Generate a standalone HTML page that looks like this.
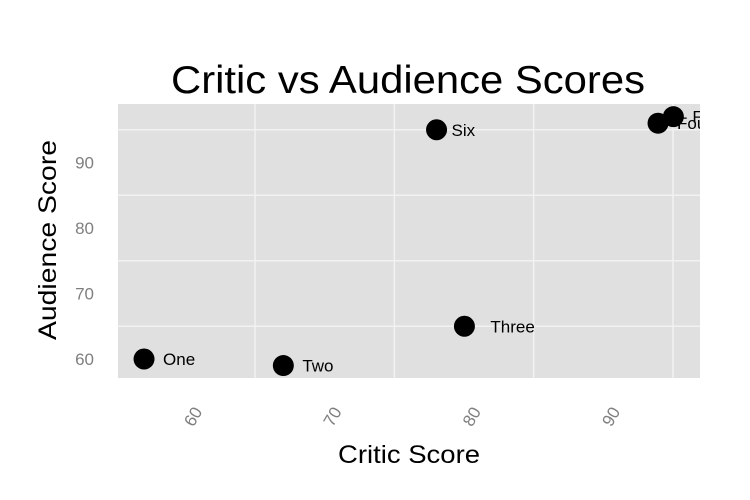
<!DOCTYPE html>
<html><head><meta charset="utf-8"><style>body{margin:0;background:#fff}svg{display:block;font-family:"Liberation Sans",Arial,sans-serif}</style></head>
<body>
<svg id="c" width="750" height="500">
<defs><clipPath id="pc"><rect x="118" y="104" width="582" height="274"/></clipPath></defs>
<text x="408" y="93" font-size="39" text-anchor="middle" textLength="474" lengthAdjust="spacingAndGlyphs">Critic vs Audience Scores</text>
<rect x="118" y="104" width="582" height="274" fill="#e0e0e0"/>
<g id="grid"></g>
<g id="pts" clip-path="url(#pc)"></g>
<g id="axes"></g>
<text x="409" y="463" font-size="25" text-anchor="middle" textLength="142" lengthAdjust="spacingAndGlyphs">Critic Score</text>
<text transform="translate(56,240) rotate(-90)" font-size="25" text-anchor="middle" textLength="200" lengthAdjust="spacingAndGlyphs">Audience Score</text>
</svg>
<script>
const names=["One","Two","Three","Four","Five","Six"];
const critic=[56.7,66.7,79.7,93.6,94.7,77.7];
const audience=[60,59,65,96,97,95];
const xTicks=[60,70,80,90];
const yTicks=[60,70,80,90];
const X=v=>190+(v-60)*13.93;
const Y=v=>359-(v-60)*6.55;
const NS="http://www.w3.org/2000/svg";
function mk(t,a,p){const e=document.createElementNS(NS,t);for(const k in a)e.setAttribute(k,a[k]);p.appendChild(e);return e;}
const g=document.getElementById('grid'),ax=document.getElementById('axes'),pts=document.getElementById('pts');
xTicks.forEach(t=>{
 const l=mk('line',{x1:X(t+4.67),x2:X(t+4.67),y1:104,y2:378,stroke:'#f2f2f2','stroke-width':1.5},g);
 
 
 const x=X(t);
 const tx=mk('text',{transform:`translate(${x+9},${409}) rotate(-60)`,'font-size':17,fill:'#7f7f7f','text-anchor':'end','dominant-baseline':'middle'},ax);
 tx.textContent=t;
 
 
});
yTicks.forEach(t=>{
 const l=mk('line',{x1:118,x2:700,y1:Y(t+5),y2:Y(t+5),stroke:'#f2f2f2','stroke-width':1.5},g);
 
 
 const tx=mk('text',{x:94,y:Y(t)+6,'font-size':17,fill:'#7f7f7f','text-anchor':'end'},ax);
 tx.textContent=t;
 
 
});
names.forEach((n,i)=>{
 const c=mk('circle',{cx:X(critic[i]),cy:Y(audience[i]),r:10.5,fill:'#000'},pts);
 
 
 const off=n==="Three"?26:(n==="Six"?15:19);
 const t=mk('text',{x:X(critic[i])+off,y:Y(audience[i])+6,'font-size':17,fill:'#000'},pts);
 t.textContent=n;
 
 
});
</script>
</body></html>
